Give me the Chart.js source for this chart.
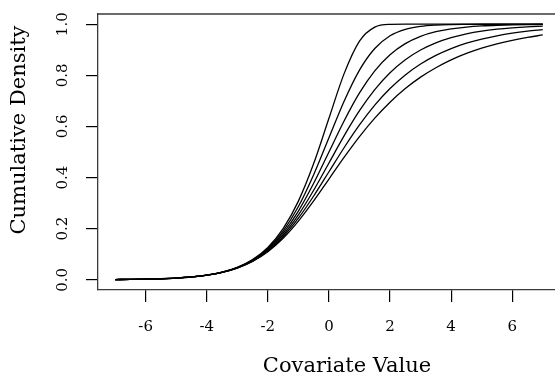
<!DOCTYPE html>
<html>
<head>
<meta charset="utf-8">
<script src="https://cdn.jsdelivr.net/npm/chart.js@4.4.1/dist/chart.umd.min.js"></script>
<style>
  html, body { margin: 0; padding: 0; background: #fff; }
  #wrap { width: 555px; height: 382px; }
</style>
</head>
<body>
<div id="wrap"><canvas id="cdf" width="555" height="382"></canvas></div>
<script>
const covariate = [-7, -6.5, -6, -5.5, -5, -4.5, -4, -3.5, -3, -2.5, -2, -1.5, -1, -0.5,
    0, 0.5, 1, 1.5, 2, 2.5, 3, 3.5, 4, 4.5, 5, 5.5, 6, 6.5, 7];

// One cumulative curve per series, steepest first
const curveA = [0.0009, 0.0015, 0.0025, 0.0041, 0.0067, 0.0110, 0.0181, 0.0297, 0.0486, 0.0788,
    0.1266, 0.2000, 0.3078, 0.4548, 0.6321, 0.8077, 0.9340, 0.9887, 0.9994, 1.0000,
    1.0000, 1.0000, 1.0000, 1.0000, 1.0000, 1.0000, 1.0000, 1.0000, 1.0000];
const curveB = [0.0009, 0.0015, 0.0025, 0.0041, 0.0067, 0.0110, 0.0181, 0.0295, 0.0480, 0.0773,
    0.1227, 0.1907, 0.2866, 0.4112, 0.5556, 0.6995, 0.8203, 0.9048, 0.9546, 0.9801,
    0.9918, 0.9968, 0.9988, 0.9995, 0.9998, 0.9999, 1.0000, 1.0000, 1.0000];
const curveC = [0.0009, 0.0015, 0.0025, 0.0041, 0.0067, 0.0110, 0.0180, 0.0293, 0.0474, 0.0759,
    0.1192, 0.1824, 0.2689, 0.3775, 0.5000, 0.6225, 0.7311, 0.8176, 0.8808, 0.9241,
    0.9526, 0.9707, 0.9820, 0.9890, 0.9933, 0.9959, 0.9975, 0.9985, 0.9991];
const curveD = [0.0009, 0.0015, 0.0025, 0.0041, 0.0067, 0.0110, 0.0179, 0.0291, 0.0469, 0.0745,
    0.1159, 0.1751, 0.2539, 0.3504, 0.4571, 0.5640, 0.6615, 0.7440, 0.8101, 0.8609,
    0.8990, 0.9270, 0.9474, 0.9622, 0.9729, 0.9805, 0.9860, 0.9900, 0.9928];
const curveE = [0.0009, 0.0015, 0.0025, 0.0041, 0.0067, 0.0109, 0.0178, 0.0289, 0.0464, 0.0732,
    0.1129, 0.1685, 0.2410, 0.3278, 0.4227, 0.5176, 0.6058, 0.6832, 0.7482, 0.8014,
    0.8442, 0.8780, 0.9047, 0.9257, 0.9421, 0.9548, 0.9648, 0.9726, 0.9787];
const curveF = [0.0009, 0.0015, 0.0025, 0.0041, 0.0067, 0.0109, 0.0178, 0.0287, 0.0458, 0.0719,
    0.1100, 0.1625, 0.2296, 0.3087, 0.3941, 0.4797, 0.5602, 0.6324, 0.6950, 0.7483,
    0.7929, 0.8299, 0.8605, 0.8856, 0.9063, 0.9232, 0.9371, 0.9485, 0.9579];

const xTicks = [-6, -4, -2, 0, 2, 4, 6];
const yTicks = [0, 0.2, 0.4, 0.6, 0.8, 1.0];
const xTitle = 'Covariate Value';
const yTitle = 'Cumulative Density';

const serif = '"DejaVu Serif", "Liberation Serif", serif';

function makeSet(values) {
    return {
        data: covariate.map((x, i) => ({ x: x, y: values[i] })),
        borderColor: '#000',
        borderWidth: 1.3,
        pointRadius: 0,
        fill: false,
        cubicInterpolationMode: 'monotone'
    };
}

// box top edge and the two axis titles, placed like the R output
const frame = {
    id: 'frame',
    afterDraw(chart) {
        const { ctx, chartArea: a } = chart;
        ctx.save();
        ctx.strokeStyle = '#3a3a3a';
        ctx.lineWidth = 1.3;
        ctx.beginPath();
        ctx.moveTo(a.left, a.top);
        ctx.lineTo(a.right, a.top);
        ctx.stroke();

        ctx.fillStyle = '#000';
        ctx.font = '21px ' + serif;
        ctx.textAlign = 'center';
        ctx.textBaseline = 'middle';
        ctx.fillText(xTitle, a.left + 249, a.bottom + 77);
        ctx.translate(20, a.top + 116);
        ctx.rotate(-Math.PI / 2);
        ctx.fillText(yTitle, 0, 0);
        ctx.restore();
    }
};

new Chart(document.getElementById('cdf'), {
    type: 'line',
    data: {
        datasets: [curveA, curveB, curveC, curveD, curveE, curveF].map(makeSet)
    },
    options: {
        responsive: false,
        devicePixelRatio: 1,
        animation: false,
        layout: { padding: { top: 14, right: 0, bottom: 0, left: 0 } },
        plugins: {
            legend: { display: false },
            tooltip: { enabled: false }
        },
        scales: {
            x: {
                type: 'linear',
                min: -7.56,
                max: 7.4,
                afterBuildTicks: s => { s.ticks = xTicks.map(v => ({ value: v })); },
                afterFit: s => { s.height = 92; s.paddingLeft = 0; s.paddingRight = 0; },
                ticks: {
                    color: '#000',
                    font: { family: serif, size: 15 },
                    padding: 16,
                    maxRotation: 0,
                    callback: v => String(v)
                },
                grid: { drawOnChartArea: false, drawTicks: true, tickLength: 12, color: '#000', lineWidth: 1.2 },
                border: { display: true, color: '#3a3a3a', width: 1.3 }
            },
            y: {
                min: -0.04,
                max: 1.04,
                afterBuildTicks: s => { s.ticks = yTicks.map(v => ({ value: v })); },
                afterFit: s => { s.width = 98; s.paddingTop = 0; s.paddingBottom = 0; },
                ticks: {
                    color: '#000',
                    font: { family: serif, size: 15 },
                    minRotation: 90,
                    maxRotation: 90,
                    crossAlign: 'center',
                    padding: 11,
                    callback: v => v.toFixed(1)
                },
                grid: { drawOnChartArea: false, drawTicks: true, tickLength: 12, color: '#000', lineWidth: 1.2 },
                border: { display: true, color: '#3a3a3a', width: 1.3 }
            }
        }
    },
    plugins: [frame]
});
</script>
</body>
</html>
